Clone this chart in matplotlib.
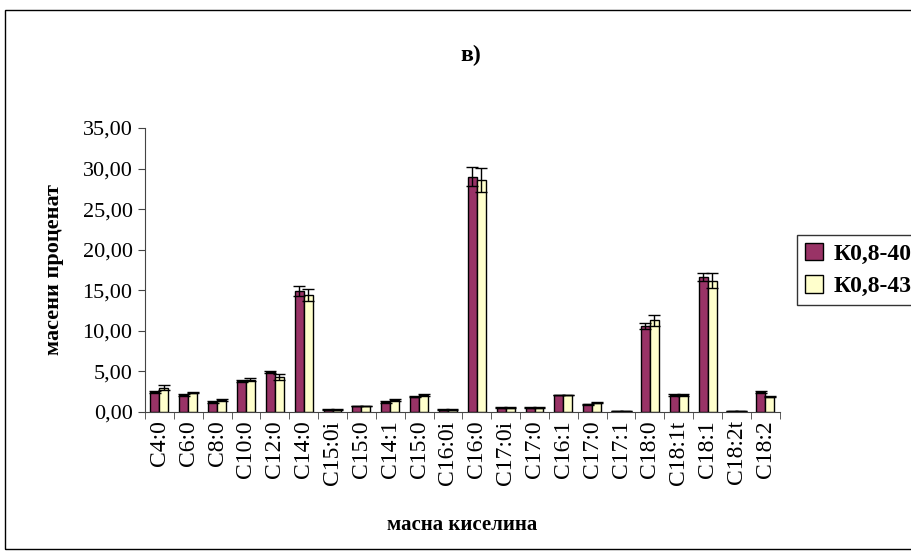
import numpy as np
import matplotlib.pyplot as plt
from matplotlib.patches import Rectangle
from matplotlib.ticker import FuncFormatter

acids = ["C4:0", "C6:0", "C8:0", "C10:0", "C12:0", "C14:0", "C15:0i", "C15:0",
         "C14:1", "C15:0", "C16:0i", "C16:0", "C17:0i", "C17:0", "C16:1", "C17:0",
         "C17:1", "C18:0", "C18:1t", "C18:1", "C18:2t", "C18:2"]
k40 = [2.45, 2.1, 1.27, 3.8, 4.9, 14.95, 0.3, 0.74, 1.27, 1.9, 0.3, 29.0,
       0.53, 0.53, 2.1, 0.95, 0.1, 10.6, 2.06, 16.6, 0.1, 2.45]
k43 = [3.0, 2.4, 1.48, 4.0, 4.3, 14.4, 0.3, 0.74, 1.48, 2.1, 0.3, 28.6,
       0.53, 0.53, 2.1, 1.15, 0.1, 11.3, 2.06, 16.2, 0.1, 1.9]
k40_err = [0.15, 0.1, 0.1, 0.15, 0.15, 0.6, 0.05, 0.05, 0.1, 0.1, 0.05, 1.2,
           0.05, 0.05, 0.05, 0.05, 0.02, 0.4, 0.1, 0.5, 0.02, 0.1]
k43_err = [0.3, 0.1, 0.1, 0.15, 0.35, 0.7, 0.05, 0.05, 0.1, 0.1, 0.05, 1.5,
           0.05, 0.05, 0.05, 0.1, 0.02, 0.7, 0.1, 0.9, 0.02, 0.1]
series_names = ["К0,8-40", "К0,8-43"]

plt.rcParams["font.family"] = ["Liberation Serif", "DejaVu Serif"]

fig = plt.figure(figsize=(9.12, 5.54), dpi=100)
# outer chart frame, open past the right edge
fig.patches.append(Rectangle((0.006, 0.009), 1.2, 0.973, transform=fig.transFigure,
                             fill=False, edgecolor="black", linewidth=1.0))
ax = fig.add_axes([0.159, 0.2563, 0.696, 0.5127])

x = np.arange(len(acids))
w = 0.31
err_kw = dict(ecolor="black", elinewidth=1.0, capsize=4, capthick=1.0)
ax.bar(x - w / 2, k40, w, yerr=k40_err, color="#993366", edgecolor="black",
       linewidth=1.0, error_kw=err_kw, label=series_names[0])
ax.bar(x + w / 2, k43, w, yerr=k43_err, color="#FFFFCC", edgecolor="black",
       linewidth=1.0, error_kw=err_kw, label=series_names[1])

ax.set_xlim(-0.5, len(acids) - 0.5)
ax.set_ylim(0, 35)
ax.set_yticks(np.arange(0, 36, 5))
ax.yaxis.set_major_formatter(FuncFormatter(lambda v, p: f"{v:.2f}".replace(".", ",")))
ax.set_xticks(x)
ax.set_xticklabels(acids, rotation=90, fontsize=17)
ax.set_xticks(np.arange(-0.5, len(acids)), minor=True)
ax.tick_params(axis="x", which="major", length=0, pad=6)
ax.tick_params(axis="x", which="minor", length=5, direction="out", color="#444444")
ax.tick_params(axis="y", length=5, direction="out", labelsize=16, color="#444444", pad=4)
ax.spines[["top", "right"]].set_visible(False)
ax.spines["left"].set_color("#444444")
ax.spines["bottom"].set_color("#444444")

ax.set_ylabel("масени проценат", fontsize=16, fontweight="bold", labelpad=13)
ax.set_xlabel("масна киселина", fontsize=15, fontweight="bold", labelpad=22)
fig.text(0.516, 0.9, "в)", ha="center", va="center", fontsize=17, fontweight="bold")

leg = ax.legend(loc="center left", bbox_to_anchor=(1.027, 0.5), frameon=True,
                fancybox=False, edgecolor="black",
                prop={"weight": "bold", "size": 17},
                handlelength=0.75, handleheight=0.75, handletextpad=0.45,
                borderpad=0.35, labelspacing=0.45, borderaxespad=0)
leg.get_frame().set_linewidth(1.0)

fig.savefig("out.png", dpi=100)
